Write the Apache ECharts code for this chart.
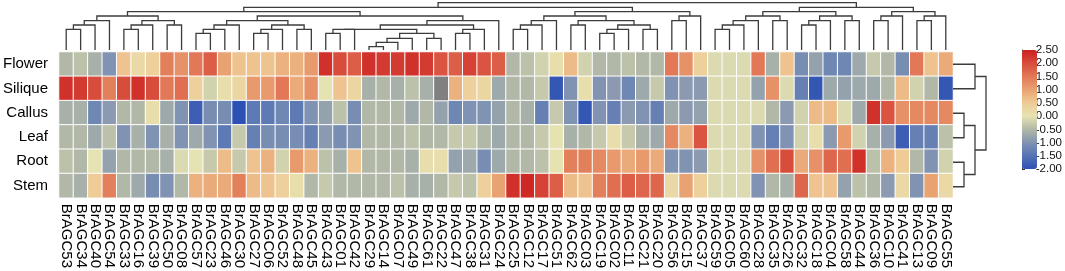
<!DOCTYPE html>
<html>
<head>
<meta charset="utf-8">
<script src="https://cdn.jsdelivr.net/npm/echarts@6/dist/echarts.min.js"></script>
<style>
  html, body { margin: 0; padding: 0; background: #fff; }
  #chart { width: 1065px; height: 271px; }
</style>
</head>
<body>
<div id="chart"></div>
<script>
// gene order along the columns (as clustered)
const geneIds = ['53','34','40','54','33','16','39','50','08','57','23','46','30','27','06','52','48','45','43','01',
  '42','29','14','07','49','61','22','47','38','31','24','25','12','17','51','62','03','19','02','11',
  '21','20','56','15','37','59','05','60','28','35','26','32','18','04','58','44','36','10','41','13','09','55'];
const genes = geneIds.map(s => 'BrAGC' + s);
const tissues = ['Flower', 'Silique', 'Callus', 'Leaf', 'Root', 'Stem'];

// scaled expression, one array per tissue (null = missing)
const flower = [-0.5,-0.4,-0.6,-1.0,0.6,0.2,0.4,1.4,1.2,1.5,1.8,1.0,0.6,0.6,0.6,0.8,0.8,1.1,2.3,2.0,
  1.8,2.3,2.2,2.2,2.3,2.2,1.9,1.8,2.1,1.9,1.8,-0.5,-0.4,-0.2,0.1,0.7,-0.2,-0.5,-0.5,-0.4,
  -0.5,-0.5,1.5,1.2,0.4,-0.1,-0.1,-0.1,1.5,-0.6,0.6,-1.1,-0.8,-1.2,-1.2,-0.7,-0.3,-0.5,-1.1,1.5,0.6,0.9];
const silique = [2.3,2.2,2.0,1.4,2.0,2.3,2.0,1.5,1.6,0.4,-0.2,0.1,0.3,1.1,1.1,1.5,0.9,1.2,0.0,0.6,
  0.3,-0.6,-0.5,-0.6,-0.4,-0.6,null,0.8,0.4,0.3,-0.7,-0.5,-0.5,-0.3,-1.9,-1.0,0.1,-1.0,-0.9,-1.2,
  -0.7,-0.3,-1.0,-0.9,-0.9,-0.1,-0.1,-0.1,-0.8,1.2,-0.1,-1.3,-1.9,-0.7,-0.8,-0.7,-0.7,-0.5,0.7,-0.2,-0.5,-1.9];
const callus = [-0.6,-0.6,-1.2,-0.9,-0.5,-0.5,0.1,-0.7,-1.0,-1.8,-1.1,-1.1,-2.0,-1.4,-1.4,-1.2,-1.4,-1.0,-0.8,-0.4,
  -1.1,-0.5,-0.5,-0.5,-0.7,-0.5,-0.8,-1.2,-1.0,-1.0,-0.8,-0.5,-0.6,-1.3,-0.3,-1.0,-1.9,-1.0,-1.3,-0.9,
  -1.0,-1.3,-0.7,-0.9,-0.8,-0.1,-0.1,-0.1,-0.1,-0.5,-0.9,-0.2,0.7,0.7,-0.1,-0.7,2.3,1.9,1.2,1.3,1.3,1.3];
const leaf = [-0.5,-0.5,-0.7,-0.4,-1.0,-0.6,-1.0,-0.6,-1.0,-0.7,-1.0,-1.4,-0.3,-1.3,-1.1,-1.1,-1.1,-1.3,-0.9,-1.1,
  -1.0,-0.5,-0.5,-0.5,-0.4,-0.5,-0.5,-0.3,-0.3,-0.5,-0.7,-0.5,-0.5,-0.3,0.0,-0.6,-0.5,-0.3,0.1,-0.3,
  -0.6,-0.7,1.3,0.8,1.9,-0.1,-0.1,-0.1,-1.0,-1.3,-1.0,-0.2,0.1,-0.9,1.1,-0.2,-0.6,-0.9,-1.8,-1.3,-1.3,-0.4];
const root = [-0.4,-0.5,0.0,-0.8,-0.5,-0.5,-0.5,-0.6,-0.1,0.0,-0.3,0.7,-0.3,0.6,0.8,-0.2,1.1,0.8,-0.4,-0.6,
  0.6,-0.5,-0.5,-0.5,-0.6,0.1,0.1,-0.8,-0.7,-1.1,-0.7,-0.5,-0.5,-0.4,0.0,1.4,1.4,1.3,1.1,0.9,
  1.1,0.9,-1.0,-1.0,-0.9,-0.1,-0.1,-0.1,1.2,1.6,2.0,0.9,1.2,1.7,1.6,2.3,-0.4,0.8,0.5,-0.5,-1.0,-0.2];
const stem = [-0.5,-0.6,0.5,1.4,-0.5,-0.7,-1.1,-1.0,-0.5,0.8,0.9,0.9,1.4,0.7,0.6,0.4,0.1,-0.5,-0.3,-0.5,
  -0.5,-0.5,-0.5,-0.4,-0.6,-0.6,-0.5,-0.3,-0.4,0.4,1.0,2.3,2.4,2.1,1.8,0.7,0.6,1.4,1.6,1.8,
  1.7,1.7,0.2,1.0,0.4,-0.1,-0.1,-0.1,-1.0,-0.5,-0.6,1.7,0.6,0.6,-0.8,-0.4,-0.5,-0.9,0.2,-1.0,1.0,0.2];
const rows = [flower, silique, callus, leaf, root, stem];

// colour bar ticks
const scaleTicks = [-2.0, -1.5, -1.0, -0.5, 0.0, 0.5, 1.0, 1.5, 2.0, 2.5];
const scaleColors = ['#2d50b4','#5574b4','#8193b2','#b1b8a7','#e6e3b2','#efcb96','#e9a272','#e27857','#d84c3c','#cc1f1f'];

// column clustering: [left, right, height]; strings are genes, numbers are earlier merges
const colMerges = [
  ['53','34',62], [0,'40',75], [1,'54',88], ['33','16',62], [3,'39',75], ['50','08',75], [4,5,88], [2,6,102],
  ['57','23',50], [8,'46',62], [9,'30',75], ['27','06',50], [11,'52',62], ['48','45',62], [12,13,75], [10,14,88],
  ['43','01',50], [16,'42',62], ['29','14',10], [18,'07',23], [19,'49',35], ['61','22',35], [20,21,50], [17,22,62],
  ['47','38',50], [24,'31',62], [23,25,75], [26,'24',88], [15,27,102], [7,28,115],
  ['25','12',62], [30,'17',75], [31,'51',88], ['62','03',75], ['19','02',50], [34,'11',62], ['21','20',62], [35,36,75],
  [33,37,88], [32,38,102], ['56','15',88], [40,'37',102], [39,41,115], [29,42,128],
  ['59','05',62], [44,'60',75], [45,'28',88], ['35','26',88], [46,47,102], ['32','18',75], [49,'04',88], ['58','44',88],
  [50,51,102], [48,52,115], ['36','10',88], [54,'41',102], ['13','09',88], [56,'55',102], [55,57,115], [53,58,128],
  [43,59,142]
];
// row clustering
const rowMerges = [['Callus','Leaf',11], ['Root','Stem',11], ['Flower','Silique',22], [0,1,22], [2,3,33]];

function dendroSegments(merges, leaves, horizontal) {
  const nodes = [];
  const segs = [];
  const get = ref => typeof ref === 'number' ? nodes[ref] : { c: leaves.indexOf(ref) + 0.5, h: 0 };
  merges.forEach(([a, b, h]) => {
    const A = get(a), B = get(b);
    nodes.push({ c: (A.c + B.c) / 2, h: h });
    const pts = [[A.c, A.h], [A.c, h], [B.c, h], [B.c, B.h]];
    segs.push([].concat(...pts.map(p => horizontal ? [p[1], p[0]] : p)));
  });
  return segs;
}

const heatData = [];
const naData = [];
rows.forEach((vals, r) => vals.forEach((v, c) => {
  if (v === null) naData.push([c, r, 0]); else heatData.push([c, r, v]);
}));

function drawLink(params, api) {
  const pts = [];
  for (let i = 0; i < 4; i++) pts.push(api.coord([api.value(2 * i), api.value(2 * i + 1)]));
  return { type: 'polyline', shape: { points: pts }, style: { stroke: '#3c3c3c', lineWidth: 1.3, fill: null } };
}

const font = 'Liberation Sans, Arial, sans-serif';
const chart = echarts.init(document.getElementById('chart'));
chart.setOption({
  animation: false,
  grid: [
    { left: 59, top: 52, width: 894, height: 147 },
    { left: 59, top: 2.7, width: 894, height: 47.3 },
    { left: 953, top: 52, width: 33, height: 147 },
    { left: 1022, top: 50, width: 15, height: 119 }
  ],
  xAxis: [
    { gridIndex: 0, type: 'category', data: genes, axisLine: { show: false }, axisTick: { show: false },
      axisLabel: { interval: 0, rotate: -90, margin: 6, fontSize: 15, color: '#000', fontFamily: font } },
    { gridIndex: 1, type: 'value', min: 0, max: genes.length, show: false },
    { gridIndex: 2, type: 'value', min: 0, max: 33, show: false },
    { gridIndex: 3, type: 'value', min: 0, max: 1, show: false }
  ],
  yAxis: [
    { gridIndex: 0, type: 'category', data: tissues, inverse: true, axisLine: { show: false }, axisTick: { show: false },
      axisLabel: { margin: 11, fontSize: 15, color: '#000', fontFamily: font } },
    { gridIndex: 1, type: 'value', min: 0, max: 142, show: false },
    { gridIndex: 2, type: 'value', min: 0, max: tissues.length, inverse: true, show: false },
    { gridIndex: 3, type: 'value', min: scaleTicks[0], max: scaleTicks[scaleTicks.length - 1], interval: 0.5,
      position: 'right', splitLine: { show: false },
      axisLine: { show: true, lineStyle: { color: '#333', width: 1 } },
      axisTick: { show: true, length: 3, lineStyle: { color: '#333' } },
      axisLabel: { margin: 3, fontSize: 11.5, color: '#111', fontFamily: font, formatter: v => v.toFixed(2) } }
  ],
  visualMap: {
    type: 'continuous', seriesIndex: 0, min: -2, max: 2.5, calculable: false,
    left: 1022, top: 50, itemWidth: 15, itemHeight: 119, padding: 0, text: null,
    inRange: { color: scaleColors }
  },
  series: [
    { type: 'heatmap', xAxisIndex: 0, yAxisIndex: 0, data: heatData,
      itemStyle: { borderColor: '#fff', borderWidth: 1 } },
    { type: 'heatmap', xAxisIndex: 0, yAxisIndex: 0, data: naData,
      itemStyle: { color: '#808080', borderColor: '#fff', borderWidth: 1 } },
    { type: 'custom', xAxisIndex: 1, yAxisIndex: 1, renderItem: drawLink,
      encode: { x: [0, 2, 4, 6], y: [1, 3, 5, 7] }, data: dendroSegments(colMerges, geneIds, false) },
    { type: 'custom', xAxisIndex: 2, yAxisIndex: 2, renderItem: drawLink,
      encode: { x: [0, 2, 4, 6], y: [1, 3, 5, 7] }, data: dendroSegments(rowMerges, tissues, true) }
  ]
});
</script>
</body>
</html>
